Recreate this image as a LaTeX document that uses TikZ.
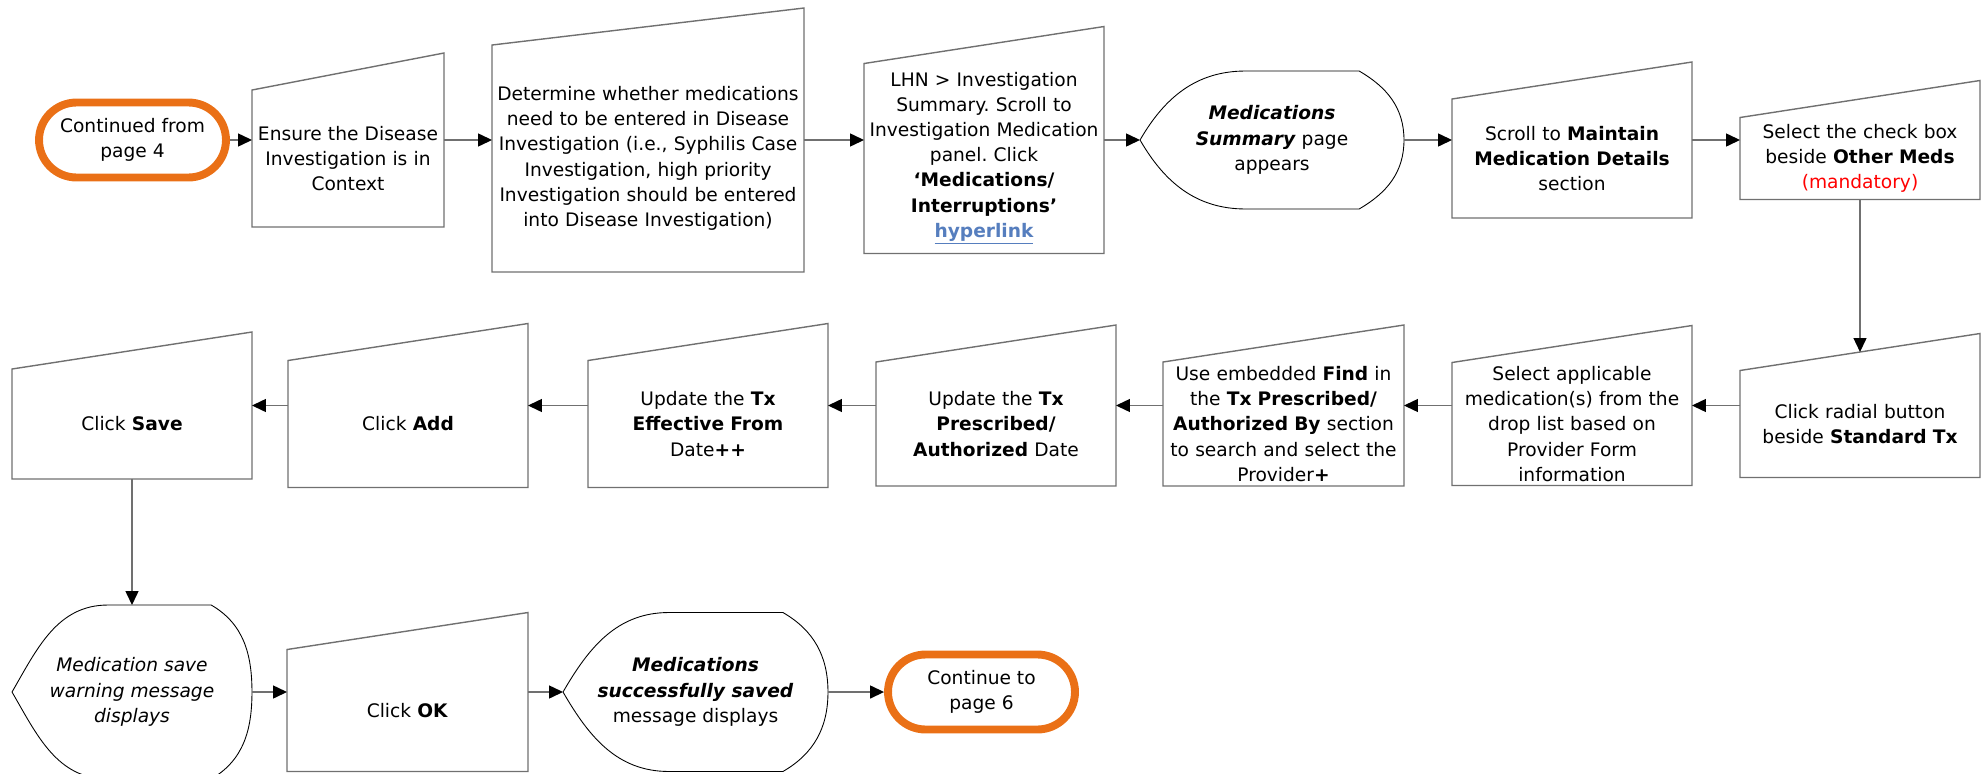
\documentclass[tikz,border=0pt]{standalone}
\usepackage{fontspec}
\setmainfont{DejaVu Sans}
\usetikzlibrary{arrows.meta,calc}

\definecolor{termorange}{RGB}{234,112,22}
\definecolor{boxgrey}{RGB}{112,112,112}
\definecolor{linkblue}{RGB}{86,126,190}
\frenchspacing

\begin{document}
\begin{tikzpicture}[x=0.02cm, y=0.02cm,
    font=\fontsize{10.6}{14.35}\selectfont,
    every node/.style={align=center},
    term/.style={draw=termorange, line width=4.5pt, rounded corners=0.75cm,
      minimum width=3.74cm, minimum height=1.5cm, inner sep=0pt},
    manual/.style 2 args={minimum width=#1, text width=#1, minimum height=#2,
      inner sep=0pt, outer sep=0pt, text height=1.02cm},
    disp/.style={inner sep=0pt, outer sep=0pt},
    boxline/.style={draw=boxgrey, line width=0.8pt},
    displine/.style={draw=black, line width=0.5pt},
    flow/.style={draw=boxgrey, line width=0.8pt,
      -{Triangle[length=0.28cm, width=0.26cm, color=black]}}]
  \useasboundingbox (0,0) rectangle (1981,-774);

  \node[term] (start) at (132.5,-140) {Continued from\\page 4};
  \node[manual={3.84cm}{3.48cm}] (ensure) at (348,-140)
    {Ensure the Disease\\Investigation is in\\Context};
  \node[manual={6.24cm}{5.28cm}] (determine) at (648,-140)
    {Determine whether medications\\need to be entered in Disease\\Investigation (i.e., Syphilis Case\\Investigation, high priority\\Investigation should be entered\\into Disease Investigation)};
  \node[manual={4.8cm}{4.54cm}] (lhn) at (984,-140)
    {LHN > Investigation\\Summary. Scroll to\\Investigation Medication\\panel. Click\\\textbf{‘Medications/}\\\textbf{Interruptions’}\\\textcolor{linkblue}{\textbf{\underline{hyperlink}}}};
  \node[disp, minimum width=5.28cm, minimum height=2.76cm] (summary) at (1272,-140)
    {\textbf{\textit{Medications}}\\\textbf{\textit{Summary}} page\\appears};
  \node[manual={4.8cm}{3.12cm}] (maintain) at (1572,-140)
    {Scroll to \textbf{Maintain}\\\textbf{Medication Details}\\section};
  \node[manual={4.8cm}{2.38cm}] (othermeds) at (1860,-140)
    {Select the check box\\beside \textbf{Other Meds}\\\textcolor{red}{(mandatory)}};

  \node[manual={4.8cm}{2.88cm}] (standard) at (1860,-405.5)
    {Click radial button\\beside \textbf{Standard Tx}};
  \node[manual={4.8cm}{3.2cm}] (applicable) at (1572,-405.5)
    {Select applicable\\medication(s) from the\\drop list based on\\Provider Form\\information};
  \node[manual={4.82cm}{3.22cm}] (find) at (1283.5,-405.5)
    {Use embedded \textbf{Find} in\\the \textbf{Tx Prescribed/}\\\textbf{Authorized By} section\\to search and select the\\Provider\textbf{+}};
  \node[manual={4.8cm}{3.22cm}] (prescribed) at (996,-405.5)
    {Update the \textbf{Tx}\\\textbf{Prescribed/}\\\textbf{Authorized} Date};
  \node[manual={4.8cm}{3.28cm}] (effective) at (708,-405.5)
    {Update the \textbf{Tx}\\\textbf{Effective From}\\Date\textbf{++}};
  \node[manual={4.8cm}{3.28cm}] (add) at (408,-405.5)
    {Click \textbf{Add}};
  \node[manual={4.8cm}{2.94cm}] (save) at (132,-405.5)
    {Click \textbf{Save}};

  \node[disp, minimum width=4.8cm, minimum height=3.48cm] (warn) at (132,-692)
    {\textit{Medication save}\\\textit{warning message}\\\textit{displays}};
  \node[manual={4.82cm}{3.18cm}] (ok) at (407.5,-692)
    {Click \textbf{OK}};
  \node[disp, minimum width=5.3cm, minimum height=3.18cm] (saved) at (695.5,-692)
    {\textbf{\textit{Medications}}\\\textbf{\textit{successfully saved}}\\message displays};
  \node[term] (cont) at (981.5,-692) {Continue to\\page 6};

  \foreach \n in {ensure,determine,lhn,maintain,othermeds,standard,applicable,find,prescribed,effective,add,save,ok}
    \draw[boxline] (\n.south west) -- (\n.south east) -- (\n.north east)
      -- ([yshift=-0.74cm]\n.north west) -- cycle;
  \foreach \n in {summary,warn,saved}
    \draw[displine] (\n.west) to[out=60,in=180] ($(\n.north west)!0.4!(\n.north east)$)
      -- ($(\n.north west)!0.83!(\n.north east)$) to[out=-30,in=90] (\n.east)
      to[out=-90,in=30] ($(\n.south west)!0.83!(\n.south east)$)
      -- ($(\n.south west)!0.4!(\n.south east)$) to[out=180,in=-60] (\n.west);

  \draw[flow] (start) -- (ensure);
  \draw[flow] (ensure) -- (determine);
  \draw[flow] (determine) -- (lhn);
  \draw[flow] (lhn) -- (summary);
  \draw[flow] (summary) -- (maintain);
  \draw[flow] (maintain) -- (othermeds);
  \draw[flow] (othermeds) -- ([yshift=-0.37cm]standard.north);
  \draw[flow] (standard) -- (applicable);
  \draw[flow] (applicable) -- (find);
  \draw[flow] (find) -- (prescribed);
  \draw[flow] (prescribed) -- (effective);
  \draw[flow] (effective) -- (add);
  \draw[flow] (add) -- (save);
  \draw[flow] (save) -- (warn);
  \draw[flow] (warn) -- (ok);
  \draw[flow] (ok) -- (saved);
  \draw[flow] (saved) -- (cont);
\end{tikzpicture}
\end{document}
